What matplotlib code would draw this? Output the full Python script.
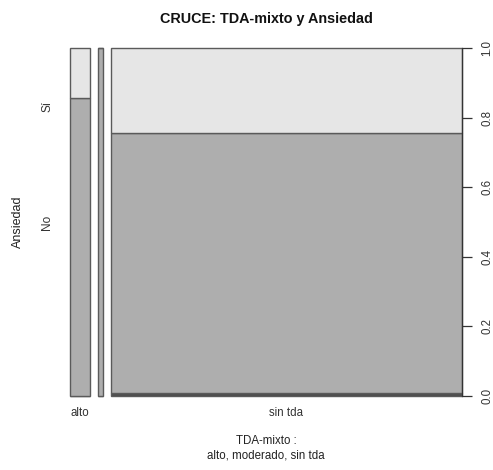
import matplotlib
matplotlib.use("Agg")
import matplotlib.pyplot as plt
import numpy as np

plt.rcParams['font.family'] = ['Liberation Sans', 'DejaVu Sans']

categories = ['alto', 'moderado', 'sin tda']
shown_xlabels = ['alto', '', 'sin tda']
levels = ['', 'No', 'Sí']
counts = np.array([
    [0, 6, 1],    # alto
    [0, 2, 0],    # moderado
    [1, 92, 30],  # sin tda
])
colors = ['#4D4D4D', '#AEAEAE', '#E6E6E6']
off = 0.02

W, H = 493, 470
fig = plt.figure(figsize=(W / 100, H / 100), dpi=100)
ax = fig.add_axes([70 / W, (H - 396) / H, (462 - 70) / W, (396 - 48) / H])

nx = len(categories)
col_tot = counts.sum(axis=1)
widths = col_tot / col_tot.sum()
lefts = np.concatenate([[0], np.cumsum(widths)[:-1]]) + off * np.arange(nx)
props = counts / col_tot[:, None]
bottoms = np.zeros(nx)
for j in range(len(levels)):
    ax.bar(lefts, props[:, j], width=widths, bottom=bottoms, align='edge',
           color=colors[j], edgecolor='#5a5a5a', linewidth=1.0, clip_on=False)
    bottoms += props[:, j]

ax.set_xlim(0, 1 + off * (nx - 1))
ax.set_ylim(0, 1)

for s in ['top', 'bottom', 'left']:
    ax.spines[s].set_visible(False)
ax.spines['right'].set_color('#333333')
ax.spines['right'].set_linewidth(0.9)

ax.yaxis.tick_right()
ax.set_yticks(np.arange(0, 1.01, 0.2))
ax.set_yticklabels([f'{v:.1f}' for v in np.arange(0, 1.01, 0.2)], rotation=90,
                   va='center', fontsize=8.3, color='#333333')
ax.tick_params(axis='y', length=7, width=0.9, color='#333333', pad=7)

ax.set_xticks(lefts + widths / 2)
ax.set_xticklabels(shown_xlabels, fontsize=8.3, color='#333333')
ax.tick_params(axis='x', length=0, pad=8)

# left level labels (equidistant)
ny = len(levels)
yat = (np.arange(ny) + 0.5) / ny
for y, lab in zip(yat, levels):
    if lab:
        ax.text(-0.058, y, lab, rotation=90, ha='center', va='center',
                fontsize=8.5, color='#333333', transform=ax.get_yaxis_transform())

fig.text(18 / W, 1 - 222 / H, 'Ansiedad', rotation=90, ha='center', va='center',
         fontsize=9, color='#222222')
fig.text(266 / W, 1 - 441 / H, 'TDA-mixto :', ha='center', va='center',
         fontsize=8.3, color='#222222')
fig.text(266 / W, 1 - 456 / H, 'alto, moderado, sin tda', ha='center', va='center',
         fontsize=8.3, color='#222222')
fig.text(266 / W, 1 - 19 / H, 'CRUCE: TDA-mixto y Ansiedad', ha='center', va='center',
         fontsize=10.4, fontweight='bold', color='#111111')

fig.savefig('out.png', dpi=100)
